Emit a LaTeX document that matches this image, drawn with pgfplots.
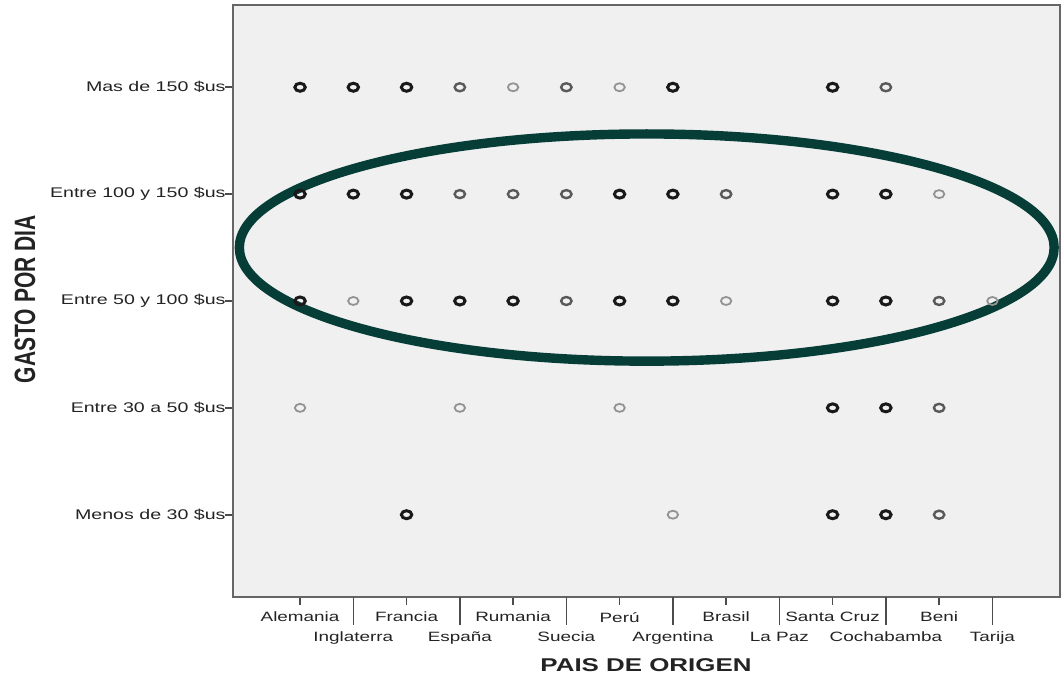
\documentclass[border=0pt]{standalone}
\usepackage{pgfplots}
\pgfplotsset{compat=1.18}
\usepackage{pgfplotstable}
\usepackage{fontspec}
\setmainfont{Liberation Sans}[FakeStretch=1.4]
\newfontfamily\plainsans{Liberation Sans}
\definecolor{ell}{RGB}{6,62,55}
\definecolor{bg}{RGB}{240,240,240}
\definecolor{txt}{RGB}{35,35,35}

% x: 1 Alemania ... 14 Tarija ; y: 1 Menos de 30 ... 5 Mas de 150
\pgfplotstableread{
x y
1 5
2 5
3 5
8 5
11 5
1 4
2 4
3 4
7 4
8 4
11 4
12 4
1 3
3 3
4 3
5 3
7 3
8 3
11 3
12 3
11 2
12 2
3 1
11 1
12 1
}\boldpts
\pgfplotstableread{
x y
4 5
6 5
12 5
4 4
5 4
6 4
9 4
6 3
13 3
13 2
13 1
}\medpts
\pgfplotstableread{
x y
5 5
7 5
13 4
2 3
9 3
14 3
1 2
4 2
7 2
8 1
}\lightpts

\begin{document}
\begin{tikzpicture}
\begin{axis}[
  scale only axis,
  width=413.5pt, height=296pt,
  xmin=-0.26, xmax=15.27,
  ymin=0.23, ymax=5.77,
  clip=false,
  axis background/.style={fill=bg},
  axis line style={draw=black!60, line width=1pt},
  tick align=outside,
  tick style={draw=black!70, line width=0.8pt},
  major tick length=4pt,
  xtick={1,3,5,7,9,11,13},
  xticklabels={Alemania,Francia,Rumania,Perú,Brasil,Santa Cruz,Beni},
  extra x ticks={2,4,6,8,10,12,14},
  extra x tick labels={Inglaterra,España,Suecia,Argentina,La Paz,Cochabamba,Tarija},
  extra x tick style={major tick length=14pt, tick style={draw=black!70, line width=0.8pt}},
  ytick={1,2,3,4,5},
  yticklabels={Menos de 30 \$us,Entre 30 a 50 \$us,Entre 50 y 100 \$us,Entre 100 y 150 \$us,Mas de 150 \$us},
  ticklabel style={font=\fontsize{6.75}{8}\selectfont, text=txt},
  yticklabel style={font=\fontsize{7}{8}\selectfont, xshift=3.8pt},
  xtick pos=bottom, ytick pos=left,
  xlabel={PAIS DE ORIGEN},
  every axis x label/.style={at={(axis description cs:0.4994,-0.115)}, anchor=center, font=\fontsize{9.25}{11}\selectfont\bfseries, text=txt},
  ylabel={\scalebox{1}[1.4]{\plainsans\bfseries GASTO POR DIA}},
  every axis y label/.style={at={(axis description cs:-0.2515,0.503)}, anchor=center, rotate=90, font=\fontsize{10.5}{12}\selectfont, text=txt},
]
\addplot[only marks, mark=o, mark size=2pt, draw=gray!85, mark options={xscale=1.3, line width=0.9pt}] table[x=x,y=y]{\lightpts};
\addplot[only marks, mark=o, mark size=2pt, draw=black!65, mark options={xscale=1.3, line width=1.2pt}] table[x=x,y=y]{\medpts};
\addplot[only marks, mark=o, mark size=2pt, draw=black!90, mark options={xscale=1.3, line width=1.5pt}] table[x=x,y=y]{\boldpts};
\draw[ell, line width=4.7pt] (axis cs:7.51,3.5) ellipse [x radius=7.65, y radius=1.063];
\path (axis description cs:-0.2817,-0.1419) (axis description cs:1.0024,1.0084);
\end{axis}
\end{tikzpicture}
\end{document}
